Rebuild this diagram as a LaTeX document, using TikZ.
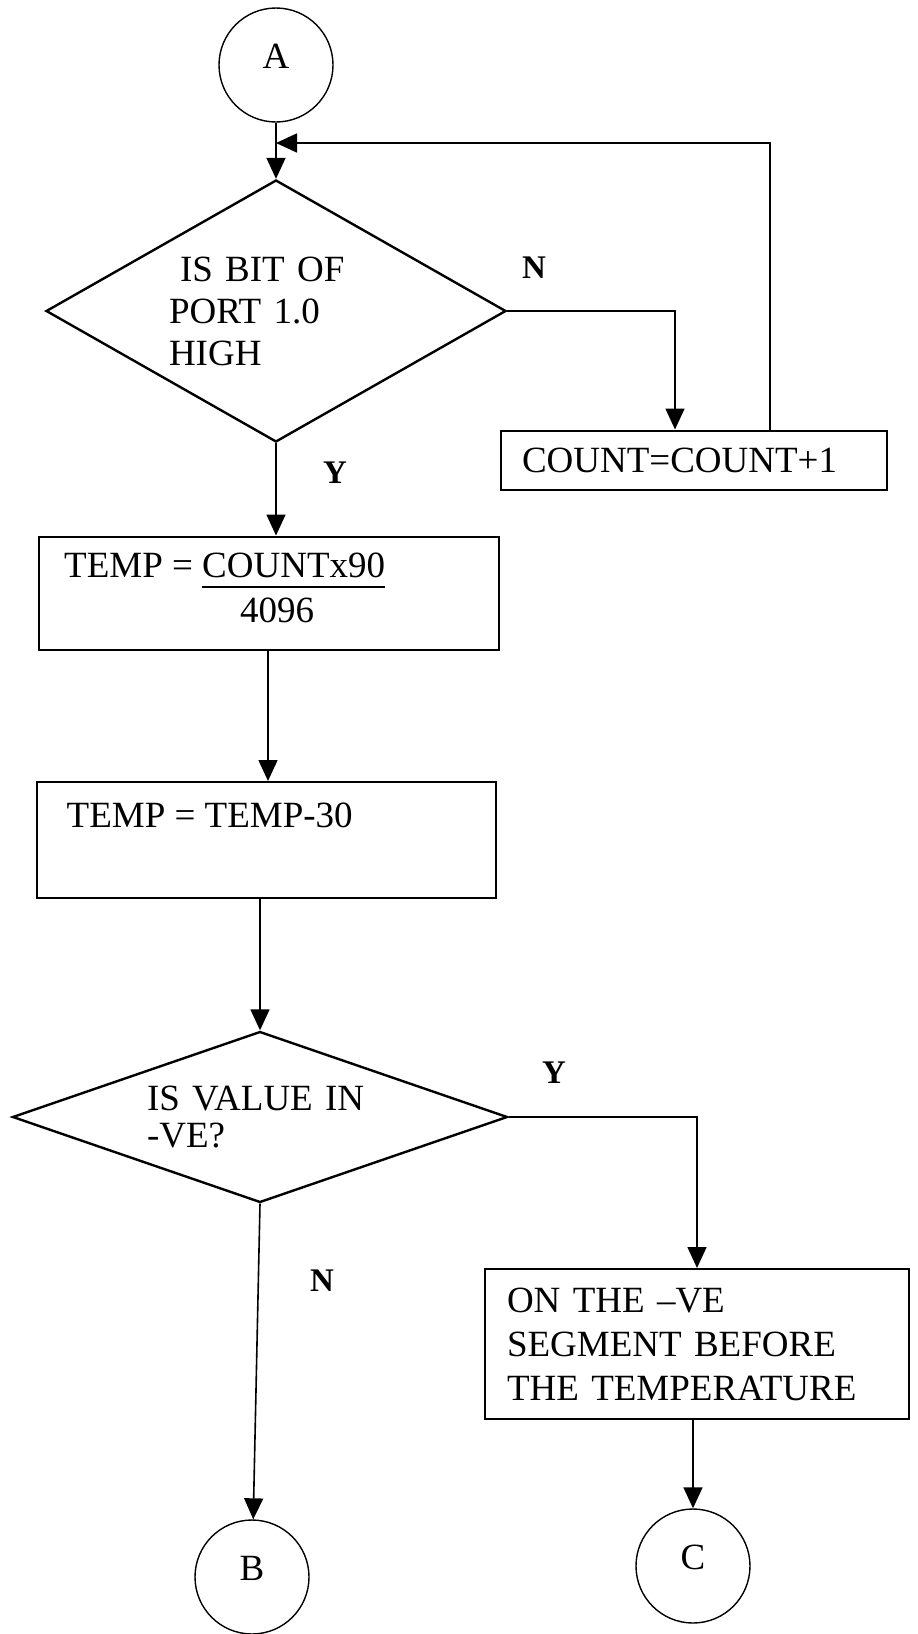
\documentclass[tikz,border=0pt]{standalone}
\usepackage{fontspec}
\setmainfont{Liberation Serif}
\usetikzlibrary{shapes.geometric,arrows.meta,calc}
\newcommand{\myul}[1]{\setbox0=\hbox{#1}\rlap{\rule[-10pt]{\wd0}{1.6pt}}\box0}
\begin{document}
\begin{tikzpicture}[x=1pt,y=-1pt,
  font=\fontsize{37}{42}\selectfont,
  conn/.style={circle,draw,line width=1.4pt,minimum size=114pt,inner sep=0pt},
  dec/.style={diamond,draw,line width=2.4pt,inner sep=0pt,align=left},
  proc/.style={rectangle,draw,line width=2pt,inner sep=0pt},
  txt/.style={inner sep=0pt,anchor=base west},
  lab/.style={inner sep=0pt,anchor=base west,font=\bfseries\fontsize{33}{38}\selectfont},
  arr/.style={line width=1.6pt,-{Triangle[length=21pt,width=19pt]}}]
\useasboundingbox (0,0) rectangle (918,1634);

% nodes
\node[conn] (A) at (276,65) {\smash{\raisebox{-3pt}{A}}};
\node[dec, minimum width=460pt, minimum height=262pt, aspect=1.76, text width=214pt] (D1) at (276,311)
  {\hspace*{11pt}IS BIT OF\\PORT 1.0\\HIGH};
\node[proc, minimum width=386pt, minimum height=59pt, text width=344pt, align=left] (CNT) at (694,460) {COUNT=COUNT+1};
\node[proc, minimum width=460pt, minimum height=113pt] (T1) at (269,593) {};
\node[txt] (T1t) at ($(T1.north west)+(26,42)$)
  {TEMP = \begin{tabular}[t]{@{}l@{}}\myul{COUNTx90}\\[3pt]\hspace*{38pt}4096\end{tabular}};
\node[proc, minimum width=459pt, minimum height=116pt] (T2) at (266,840) {};
\node[txt] (T2t) at ($(T2.north west)+(31,46)$) {TEMP = TEMP-30};
\node[dec, minimum width=495pt, minimum height=171pt, aspect=2.9, text width=226pt,
  font=\fontsize{37}{37}\selectfont] (D2) at (260,1117) {IS VALUE IN\\-VE?};
\node[proc, minimum width=424pt, minimum height=150pt, text width=380pt, align=left,
  font=\fontsize{37}{44}\selectfont] (ON) at (697,1344) {ON THE --VE\\SEGMENT BEFORE\\THE TEMPERATURE};
\node[conn] (B) at (252,1577) {\smash{\raisebox{-3pt}{B}}};
\node[conn] (C) at (693,1566) {\smash{\raisebox{-3pt}{C}}};

% helper coordinates
\coordinate (J) at (276,143);
\coordinate (FB) at (770,0);
\coordinate (NX) at (675,0);
\coordinate (X1) at (268,0);

% connectors
\draw[arr] (A) -- (D1.north);
\draw[arr] (CNT.north -| FB) |- (J);
\draw[arr] (D1.east) -| (NX |- CNT.north);
\draw[arr] (D1.south) -- (D1.south |- T1.north);
\draw[arr] (T1.south -| X1) -- (T2.north -| X1);
\draw[arr] (T2.south -| D2.north) -- (D2.north);
\draw[arr] (D2.south) -- (B);
\draw[arr] (D2.east) -| (ON.north);
\draw[arr] (ON.south -| C.north) -- (C.north);

% labels
\node[lab] (N1) at (522,278) {N};
\node[lab] (Y1) at (323,483) {Y};
\node[lab] (Y2) at (542,1083) {Y};
\node[lab] (N2) at (310,1291) {N};
\end{tikzpicture}
\end{document}
